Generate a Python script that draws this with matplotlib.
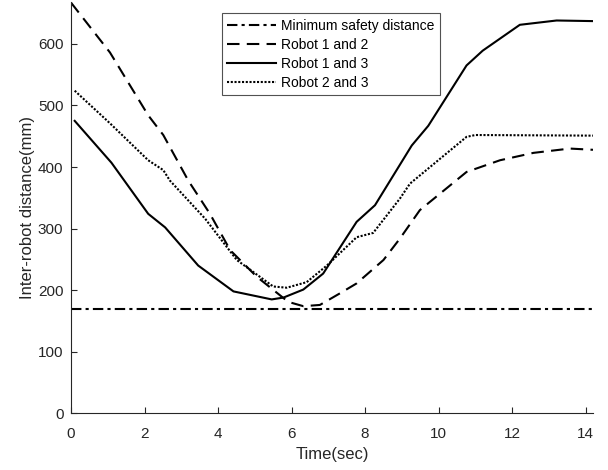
import numpy as np
import matplotlib.pyplot as plt

plt.rcParams['font.family'] = ['Liberation Sans', 'DejaVu Sans']

# Minimum safety distance
min_dist = 170
t_span = [0, 14.2]

# Robot 1 and 2 (dashed)
t12 = [0.0, 1.06, 2.1, 2.51, 3.19, 3.78, 4.33, 5.05, 5.91, 6.32, 6.77, 7.32, 7.77,
       8.5, 8.95, 9.49, 10.76, 11.67, 12.58, 13.57, 14.2]
d12 = [667, 586, 484, 452, 378, 324, 265, 222, 181, 174, 176, 195, 211,
       249, 284, 330, 392, 411, 423, 430, 428]

# Robot 1 and 3 (solid)
t13 = [0.1, 1.1, 2.1, 2.56, 3.46, 4.42, 5.46, 5.78, 6.32, 6.86, 7.77, 8.27,
       9.27, 9.72, 10.76, 11.2, 12.21, 13.21, 14.2]
d13 = [475, 407, 324, 302, 240, 198, 185, 188, 201, 227, 311, 338,
       435, 467, 565, 589, 631, 638, 637]

# Robot 2 and 3 (dotted)
t23 = [0.1, 1.06, 2.1, 2.51, 2.69, 3.65, 4.51, 5.5, 5.87, 6.41, 6.96, 7.77, 8.22,
       8.95, 9.22, 10.76, 11.0, 14.2]
d23 = [524, 471, 411, 395, 378, 316, 249, 206, 204, 213, 240, 286, 293,
       349, 373, 449, 452, 451]

fig = plt.figure(figsize=(6.08, 4.70), dpi=100)
ax = fig.add_axes([0.1168, 0.1206, 0.8585, 0.8751])

ax.plot(t_span, [min_dist, min_dist], color='black', linestyle=(0, (5, 2, 1.5, 2)),
        linewidth=1.5, label='Minimum safety distance')
ax.plot(t12, d12, color='black', linestyle=(0, (6, 3.5)), linewidth=1.5, label='Robot 1 and 2')
ax.plot(t13, d13, color='black', linestyle='-', linewidth=1.5, label='Robot 1 and 3')
ax.plot(t23, d23, color='black', linestyle=(0, (1, 0.8)), linewidth=1.5, label='Robot 2 and 3')

ax.set_xlim(0, 14.2)
ax.set_ylim(0, 668)
ax.set_xticks(np.arange(0, 15, 2))
ax.set_yticks(np.arange(0, 700, 100))
ax.set_xlabel('Time(sec)', fontsize=12, color='#262626', labelpad=4.5)
ax.set_ylabel('Inter-robot distance(mm)', fontsize=12, color='#262626', labelpad=2)

for side in ['top', 'right']:
    ax.spines[side].set_visible(False)
for side in ['left', 'bottom']:
    ax.spines[side].set_color('#262626')
    ax.spines[side].set_linewidth(0.8)
ax.tick_params(direction='in', length=4, width=0.8, colors='#262626', labelsize=11)
ax.tick_params(axis='x', pad=9.5)
ax.tick_params(axis='y', pad=5.5)

leg = ax.legend(loc='upper left', bbox_to_anchor=(0.289, 0.9725), fontsize=10,
                frameon=True, fancybox=False, edgecolor='#262626',
                handlelength=3.5, handletextpad=0.36, borderpad=0.4, labelspacing=0.36,
                borderaxespad=0)
leg.get_frame().set_linewidth(0.8)

fig.savefig('out.png', dpi=100)
